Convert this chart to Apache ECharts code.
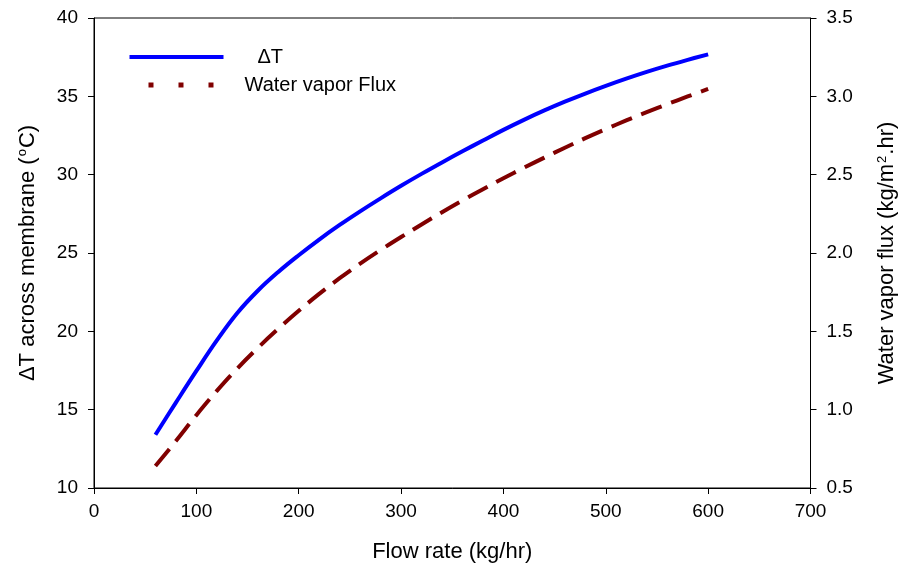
<!DOCTYPE html>
<html>
<head>
<meta charset="utf-8">
<script src="https://cdn.jsdelivr.net/npm/echarts@6/dist/echarts.min.js"></script>
<style>
  html, body { margin: 0; padding: 0; background: #fff; }
  #chart { width: 906px; height: 570px; }
</style>
</head>
<body>
<div id="chart"></div>
<script>
// Flow rate (kg/hr)
const flowRate = [60, 80, 100, 120, 140, 160, 180, 200, 220, 240, 260, 280, 300, 320, 340, 360,
  380, 400, 420, 440, 460, 480, 500, 520, 540, 560, 580, 600];
// Temperature difference across the membrane (°C)
const deltaT = [13.4, 15.45, 17.47, 19.42, 21.17, 22.59, 23.79, 24.86, 25.86, 26.79, 27.66, 28.49,
  29.29, 30.05, 30.78, 31.49, 32.18, 32.86, 33.5, 34.1, 34.66, 35.18, 35.67, 36.13, 36.56,
  36.96, 37.33, 37.68];
// Water vapor flux (kg/m2.hr)
const vaporFlux = [0.64, 0.80, 0.965, 1.12, 1.263, 1.394, 1.516, 1.631, 1.739, 1.839, 1.932,
  2.019, 2.102, 2.182, 2.26, 2.335, 2.407, 2.477, 2.544, 2.609, 2.672, 2.733, 2.791, 2.846,
  2.899, 2.95, 2.999, 3.047];

const font = 'Liberation Sans, Arial, sans-serif';
const chart = echarts.init(document.getElementById('chart'));

const pairs = (xs, ys) => xs.map((x, i) => [x, ys[i]]);

const nameRich = {
  n: { fontFamily: font, fontSize: 22, color: '#000' },
  s: { fontFamily: font, fontSize: 13, color: '#000', verticalAlign: 'top', padding: [0, 1, 10, 1] }
};

chart.setOption({
  animation: false,
  backgroundColor: '#fff',
  grid: {
    left: 94, right: 94, top: 18, bottom: 82,
    show: true, borderColor: '#000', borderWidth: 1
  },
  legend: {
    left: 127, top: 47, padding: 0, orient: 'vertical',
    itemWidth: 94, itemHeight: 14, itemGap: 8,
    textStyle: { fontFamily: font, fontSize: 20, color: '#000', padding: [0, 0, 0, 16] },
    data: [
      {
        name: 'ΔT',
        itemStyle: { opacity: 0 },
        lineStyle: { color: '#0000ff', width: 4, type: 'solid' },
        textStyle: { padding: [0, 0, 0, 29] }
      },
      {
        name: 'Water vapor Flux',
        itemStyle: { opacity: 0 },
        lineStyle: { color: '#800000', width: 5, type: [5, 25], dashOffset: 11, cap: 'butt' }
      }
    ]
  },
  xAxis: {
    type: 'value', min: 0, max: 700, interval: 100,
    name: 'Flow rate (kg/hr)', nameLocation: 'middle', nameGap: 53,
    nameTextStyle: { fontFamily: font, fontSize: 22, color: '#000' },
    axisLine: { onZero: false, lineStyle: { color: '#000', width: 1 } },
    axisTick: { inside: false, length: 6, lineStyle: { color: '#000' } },
    axisLabel: { fontFamily: font, fontSize: 19, color: '#000', margin: 14 },
    splitLine: { show: false }
  },
  yAxis: [
    {
      type: 'value', min: 10, max: 40, interval: 5, position: 'left',
      name: '{n|ΔT across membrane (}{s|o}{n|C)}',
      nameLocation: 'middle', nameGap: 55, nameRotate: 90,
      nameTextStyle: { rich: nameRich },
      axisLine: { show: true, lineStyle: { color: '#000', width: 1 } },
      axisTick: { show: true, length: 6, lineStyle: { color: '#000' } },
      axisLabel: { fontFamily: font, fontSize: 19, color: '#000', margin: 16 },
      splitLine: { show: false }
    },
    {
      type: 'value', min: 0.5, max: 3.5, interval: 0.5, position: 'right',
      name: '{n|Water vapor flux (kg/m}{s|2}{n|.hr)}',
      nameLocation: 'middle', nameGap: 65, nameRotate: 90,
      nameTextStyle: { rich: nameRich },
      axisLine: { show: true, lineStyle: { color: '#000', width: 1 } },
      axisTick: { show: true, length: 6, lineStyle: { color: '#000' } },
      axisLabel: {
        fontFamily: font, fontSize: 19, color: '#000', margin: 16,
        formatter: v => v.toFixed(1)
      },
      splitLine: { show: false }
    }
  ],
  series: [
    {
      name: 'ΔT', type: 'line', yAxisIndex: 0,
      data: pairs(flowRate, deltaT),
      smooth: 0.4, symbol: 'none',
      lineStyle: { color: '#0000ff', width: 4, type: 'solid' },
      itemStyle: { color: '#0000ff' }
    },
    {
      name: 'Water vapor Flux', type: 'line', yAxisIndex: 1,
      data: pairs(flowRate, vaporFlux),
      smooth: 0.4, symbol: 'none',
      lineStyle: { color: '#800000', width: 4, type: [22, 10] },
      itemStyle: { color: '#800000' }
    }
  ]
});
</script>
</body>
</html>
